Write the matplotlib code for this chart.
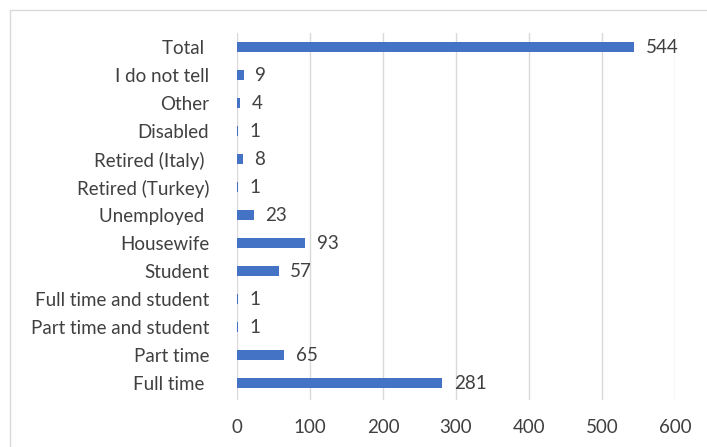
import matplotlib
matplotlib.use("Agg")
import matplotlib.pyplot as plt
from matplotlib.patches import Rectangle

categories = ["Full time ", "Part time", "Part time and student", "Full time and student",
              "Student", "Housewife", "Unemployed ", "Retired (Turkey)", "Retired (Italy) ",
              "Disabled", "Other", "I do not tell", "Total "]
counts = [281, 65, 1, 1, 57, 93, 23, 1, 8, 1, 4, 9, 544]

plt.rcParams["font.family"] = ["Lato", "DejaVu Sans"]
text_color = "#404040"
fs = 13.5

fig = plt.figure(figsize=(7.07, 4.47), dpi=100)
# light outer chart frame
fig.patches.append(Rectangle((10 / 707, -0.1), 1.2, 1.1 - 10 / 447,
                             transform=fig.transFigure, fill=False,
                             edgecolor="#d9d9d9", linewidth=1.0))

ax = fig.add_axes([237 / 707, 1 - 400 / 447, (675 - 237) / 707, (400 - 33) / 447])
y = list(range(len(categories)))
ax.barh(y, counts, height=0.36, color="#4472c4", zorder=3)

for yi, v in zip(y, counts):
    ax.text(v + 16, yi, str(v), va="center", ha="left", fontsize=fs, color=text_color)

ax.set_xlim(0, 600)
ax.set_ylim(-0.6, 12.5)
ax.set_xticks(range(0, 601, 100))
ax.set_yticks(y)
ax.set_yticklabels(categories)
ax.tick_params(axis="both", length=0, labelsize=fs, colors=text_color)
ax.tick_params(axis="y", pad=20)
ax.tick_params(axis="x", pad=14)
ax.grid(axis="x", color="#d9d9d9", linewidth=1.0, zorder=0)
for s in ax.spines.values():
    s.set_visible(False)

fig.savefig("out.png", dpi=100)
